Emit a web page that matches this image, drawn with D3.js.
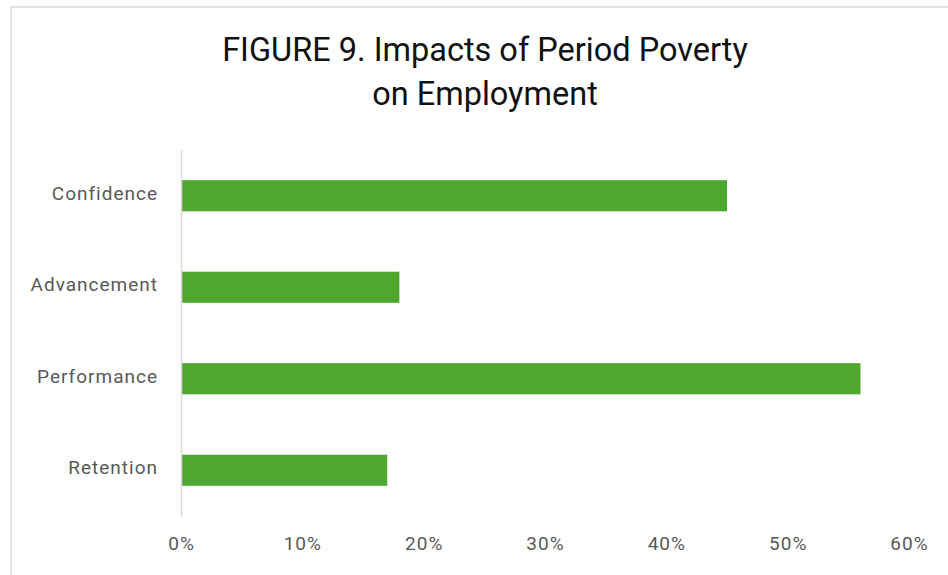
<!DOCTYPE html>
<html>
<head>
<meta charset="utf-8">
<script src="https://cdn.jsdelivr.net/npm/d3@7"></script>
<style>
  html, body { margin: 0; padding: 0; background: #fff; }
  #chart { width: 948px; height: 575px; }
</style>
</head>
<body>
<div id="chart"></div>
<script>
"use strict";

const categories = ["Confidence", "Advancement", "Performance", "Retention"];
const values = [0.45, 0.18, 0.56, 0.17];
const xTicks = [0, 0.1, 0.2, 0.3, 0.4, 0.5, 0.6];
const titleLines = ["FIGURE 9. Impacts of Period Poverty", "on Employment"];

const w = 948;
const h = 575;

const svg = d3.select("#chart")
  .append("svg")
  .attr("width", w)
  .attr("height", h);

// chart frame, cropped at right and bottom
svg.append("rect")
  .attr("x", 11)
  .attr("y", 7)
  .attr("width", w)
  .attr("height", h)
  .attr("fill", "#fff")
  .attr("stroke", "#d9d9d9")
  .attr("stroke-width", 1.5);

// title
svg.append("g")
  .selectAll("text")
  .data(titleLines)
  .enter()
  .append("text")
  .attr("x", 485)
  .attr("y", (d, i) => 61 + i * 44)
  .attr("text-anchor", "middle")
  .attr("font-family", "Roboto, sans-serif")
  .attr("font-size", 32.5)
  .attr("fill", "#111")
  .text((d) => d);

const xScale = d3.scaleLinear()
  .domain([0, 0.6])
  .range([181, 909]);

const yScale = d3.scaleBand()
  .domain(categories)
  .range([150, 516])
  .paddingInner(0.66)
  .paddingOuter(0.33);

// bars
svg.append("g")
  .selectAll("rect")
  .data(categories)
  .enter()
  .append("rect")
  .attr("x", xScale(0))
  .attr("y", (c) => yScale(c))
  .attr("width", (c, i) => xScale(values[i]) - xScale(0))
  .attr("height", yScale.bandwidth())
  .attr("fill", "#4ea72e");

// y-axis
const yAxis = svg.append("g")
  .attr("transform", `translate(${xScale(0)},0)`)
  .call(d3.axisLeft(yScale).tickSize(0).tickPadding(23));
yAxis.select(".domain").attr("stroke", "#d9d9d9").attr("stroke-width", 1.5);
yAxis.selectAll("text")
  .attr("y", -2)
  .attr("font-family", "Roboto, sans-serif")
  .attr("font-size", 19)
  .attr("letter-spacing", 1)
  .attr("fill", "#595959");

// x-axis labels, no line
const xAxis = svg.append("g")
  .attr("transform", "translate(0,516)")
  .call(d3.axisBottom(xScale).tickValues(xTicks).tickFormat(d3.format(".0%")).tickSize(0).tickPadding(21));
xAxis.select(".domain").remove();
xAxis.selectAll("text")
  .attr("font-family", "Roboto, sans-serif")
  .attr("font-size", 19)
  .attr("letter-spacing", 1)
  .attr("fill", "#595959");
</script>
</body>
</html>
